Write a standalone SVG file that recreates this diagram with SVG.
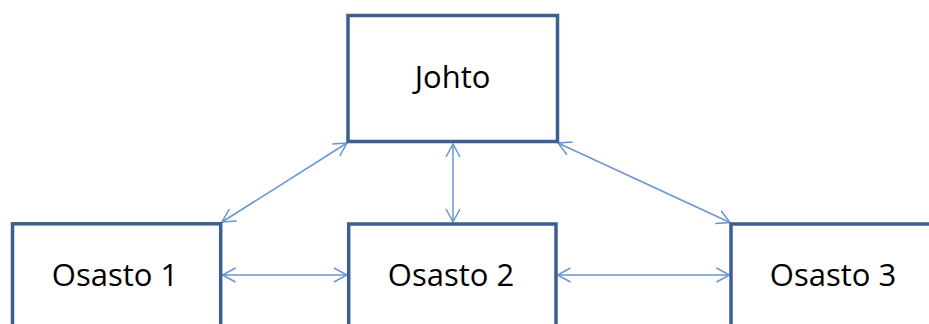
<svg xmlns="http://www.w3.org/2000/svg" width="929" height="324" viewBox="0 0 929 324">
<style>
.box{fill:#ffffff;stroke:#3b5f8e;stroke-width:3.5}
.lbl{font-family:"Open Sans","Liberation Sans",sans-serif;font-size:31px;fill:#000000;text-anchor:middle}
.con{stroke:#6a96cf;stroke-width:1.5;fill:none;marker-start:url(#ah);marker-end:url(#ah)}
</style>
<defs>
<marker id="ah" markerUnits="userSpaceOnUse" markerWidth="20" markerHeight="20" viewBox="-15 -10 17 20" refX="0" refY="0" orient="auto-start-reverse">
<path d="M-13,-7 L0,0 L-13,7" fill="none" stroke="#6a96cf" stroke-width="1.5"/>
</marker>
</defs>
<g id="connectors">
<line class="con" x1="222" y1="222" x2="347" y2="143"/>
<line class="con" x1="453" y1="144" x2="453" y2="222"/>
<line class="con" x1="558" y1="143" x2="730" y2="222.5"/>
<line class="con" x1="222.5" y1="275" x2="347" y2="275"/>
<line class="con" x1="557.5" y1="275" x2="729.5" y2="275"/>
</g>
<g id="johto">
<rect class="box" x="348" y="15.5" width="209.5" height="126"/>
<text class="lbl" x="452.5" y="88">Johto</text>
</g>
<g id="osasto1">
<rect class="box" x="12.5" y="223.8" width="208.2" height="120"/>
<text class="lbl" x="115" y="286">Osasto 1</text>
</g>
<g id="osasto2">
<rect class="box" x="348.7" y="224" width="207.3" height="120"/>
<text class="lbl" x="451" y="286">Osasto 2</text>
</g>
<g id="osasto3">
<rect class="box" x="731" y="224" width="208" height="120"/>
<text class="lbl" x="833" y="286">Osasto 3</text>
</g>
</svg>
